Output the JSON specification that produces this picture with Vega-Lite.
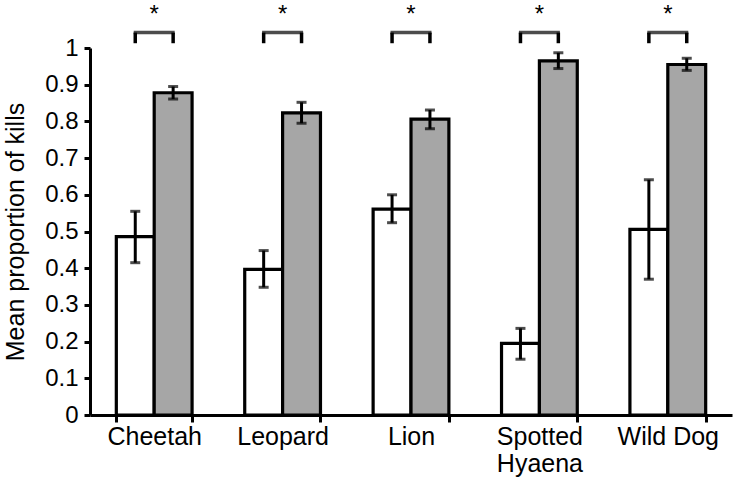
{
  "$schema": "https://vega.github.io/schema/vega-lite/v6.json",
  "autosize": {"type": "none"},
  "width": 642,
  "height": 367,
  "padding": {"left": 90, "top": 48, "right": 11, "bottom": 71},
  "background": "white",
  "config": {
    "view": {"stroke": null},
    "font": "Liberation Sans",
    "axis": {"grid": false, "domainColor": "black", "tickColor": "black", "labelColor": "black", "titleColor": "black", "labelFont": "Liberation Sans", "titleFont": "Liberation Sans"},
    "axisY": {"titleFontSize": 25, "titleFontWeight": "normal", "titlePadding": 16, "labelFontSize": 24, "labelPadding": 6, "labelOverlap": false, "tickSize": 6, "tickWidth": 3, "domainWidth": 3}
  },
  "datasets": {
    "bars": [
      {"animal": "Cheetah", "group": "A", "mean": 0.486, "lo": 0.415, "hi": 0.555},
      {"animal": "Cheetah", "group": "B", "mean": 0.878, "lo": 0.861, "hi": 0.895},
      {"animal": "Leopard", "group": "A", "mean": 0.397, "lo": 0.348, "hi": 0.448},
      {"animal": "Leopard", "group": "B", "mean": 0.823, "lo": 0.795, "hi": 0.852},
      {"animal": "Lion", "group": "A", "mean": 0.561, "lo": 0.524, "hi": 0.600},
      {"animal": "Lion", "group": "B", "mean": 0.806, "lo": 0.780, "hi": 0.831},
      {"animal": "Spotted Hyaena", "group": "A", "mean": 0.195, "lo": 0.152, "hi": 0.236},
      {"animal": "Spotted Hyaena", "group": "B", "mean": 0.965, "lo": 0.944, "hi": 0.987},
      {"animal": "Wild Dog", "group": "A", "mean": 0.506, "lo": 0.370, "hi": 0.641},
      {"animal": "Wild Dog", "group": "B", "mean": 0.955, "lo": 0.939, "hi": 0.972}
    ],
    "legs": [
      {"animal": "Cheetah", "group": "A", "lo": 1.013, "hi": 1.042},
      {"animal": "Cheetah", "group": "B", "lo": 1.013, "hi": 1.042},
      {"animal": "Leopard", "group": "A", "lo": 1.013, "hi": 1.042},
      {"animal": "Leopard", "group": "B", "lo": 1.013, "hi": 1.042},
      {"animal": "Lion", "group": "A", "lo": 1.013, "hi": 1.042},
      {"animal": "Lion", "group": "B", "lo": 1.013, "hi": 1.042},
      {"animal": "Spotted Hyaena", "group": "A", "lo": 1.013, "hi": 1.042},
      {"animal": "Spotted Hyaena", "group": "B", "lo": 1.013, "hi": 1.042},
      {"animal": "Wild Dog", "group": "A", "lo": 1.013, "hi": 1.042},
      {"animal": "Wild Dog", "group": "B", "lo": 1.013, "hi": 1.042}
    ],
    "sig": [
      {"animal": "Cheetah", "top": 1.042, "star": 1.071, "label": "*"},
      {"animal": "Leopard", "top": 1.042, "star": 1.071, "label": "*"},
      {"animal": "Lion", "top": 1.042, "star": 1.071, "label": "*"},
      {"animal": "Spotted Hyaena", "top": 1.042, "star": 1.071, "label": "*"},
      {"animal": "Wild Dog", "top": 1.042, "star": 1.071, "label": "*"}
    ]
  },
  "encoding": {
    "x": {
      "field": "animal", "type": "nominal", "sort": null,
      "scale": {"paddingInner": 0.41, "paddingOuter": 0.205},
      "axis": {
        "title": null, "labelAngle": 0, "labelFontSize": 25, "labelPadding": 2,
        "tickBand": "extent", "tickSize": 7, "tickWidth": 3, "domainWidth": 3,
        "labelLineHeight": 27, "labelOverlap": false,
        "labelExpr": "datum.label == 'Spotted Hyaena' ? ['Spotted', 'Hyaena'] : datum.label"
      }
    }
  },
  "layer": [
    {
      "data": {"name": "bars"},
      "mark": {"type": "bar", "stroke": "black", "strokeWidth": 3.2},
      "encoding": {
        "xOffset": {"field": "group", "type": "nominal", "scale": {"paddingInner": 0, "paddingOuter": 0}},
        "y": {
          "field": "mean", "type": "quantitative",
          "scale": {"domain": [0, 1], "nice": false},
          "axis": {"title": "Mean proportion of kills", "values": [0, 0.1, 0.2, 0.3, 0.4, 0.5, 0.6, 0.7, 0.8, 0.9, 1], "format": ".1~f"}
        },
        "fill": {"field": "group", "type": "nominal", "scale": {"domain": ["A", "B"], "range": ["white", "#a6a6a6"]}, "legend": null}
      }
    },
    {
      "data": {"name": "bars"},
      "mark": {"type": "rule", "color": "black", "strokeWidth": 3},
      "encoding": {
        "xOffset": {"field": "group", "type": "nominal", "scale": {"paddingInner": 0, "paddingOuter": 0}},
        "y": {"field": "lo", "type": "quantitative", "axis": {"title": "Mean proportion of kills", "values": [0, 0.1, 0.2, 0.3, 0.4, 0.5, 0.6, 0.7, 0.8, 0.9, 1], "format": ".1~f"}},
        "y2": {"field": "hi"}
      }
    },
    {
      "data": {"name": "bars"},
      "mark": {"type": "tick", "color": "black", "size": 10, "thickness": 3, "orient": "horizontal"},
      "encoding": {
        "xOffset": {"field": "group", "type": "nominal", "scale": {"paddingInner": 0, "paddingOuter": 0}},
        "y": {"field": "lo", "type": "quantitative", "axis": {"title": "Mean proportion of kills", "values": [0, 0.1, 0.2, 0.3, 0.4, 0.5, 0.6, 0.7, 0.8, 0.9, 1], "format": ".1~f"}}
      }
    },
    {
      "data": {"name": "bars"},
      "mark": {"type": "tick", "color": "black", "size": 10, "thickness": 3, "orient": "horizontal"},
      "encoding": {
        "xOffset": {"field": "group", "type": "nominal", "scale": {"paddingInner": 0, "paddingOuter": 0}},
        "y": {"field": "hi", "type": "quantitative", "axis": {"title": "Mean proportion of kills", "values": [0, 0.1, 0.2, 0.3, 0.4, 0.5, 0.6, 0.7, 0.8, 0.9, 1], "format": ".1~f"}}
      }
    },
    {
      "data": {"name": "legs"},
      "mark": {"type": "rule", "color": "black", "strokeWidth": 3.5},
      "encoding": {
        "xOffset": {"field": "group", "type": "nominal", "scale": {"paddingInner": 0, "paddingOuter": 0}},
        "y": {"field": "lo", "type": "quantitative", "axis": {"title": "Mean proportion of kills", "values": [0, 0.1, 0.2, 0.3, 0.4, 0.5, 0.6, 0.7, 0.8, 0.9, 1], "format": ".1~f"}},
        "y2": {"field": "hi"}
      }
    },
    {
      "data": {"name": "sig"},
      "mark": {"type": "tick", "color": "black", "size": 41, "thickness": 3.5, "orient": "horizontal"},
      "encoding": {
        "y": {"field": "top", "type": "quantitative", "axis": {"title": "Mean proportion of kills", "values": [0, 0.1, 0.2, 0.3, 0.4, 0.5, 0.6, 0.7, 0.8, 0.9, 1], "format": ".1~f"}}
      }
    },
    {
      "data": {"name": "sig"},
      "mark": {"type": "text", "color": "black", "fontSize": 24, "baseline": "alphabetic", "align": "center"},
      "encoding": {
        "y": {"field": "star", "type": "quantitative", "axis": {"title": "Mean proportion of kills", "values": [0, 0.1, 0.2, 0.3, 0.4, 0.5, 0.6, 0.7, 0.8, 0.9, 1], "format": ".1~f"}},
        "text": {"field": "label"}
      }
    }
  ]
}
